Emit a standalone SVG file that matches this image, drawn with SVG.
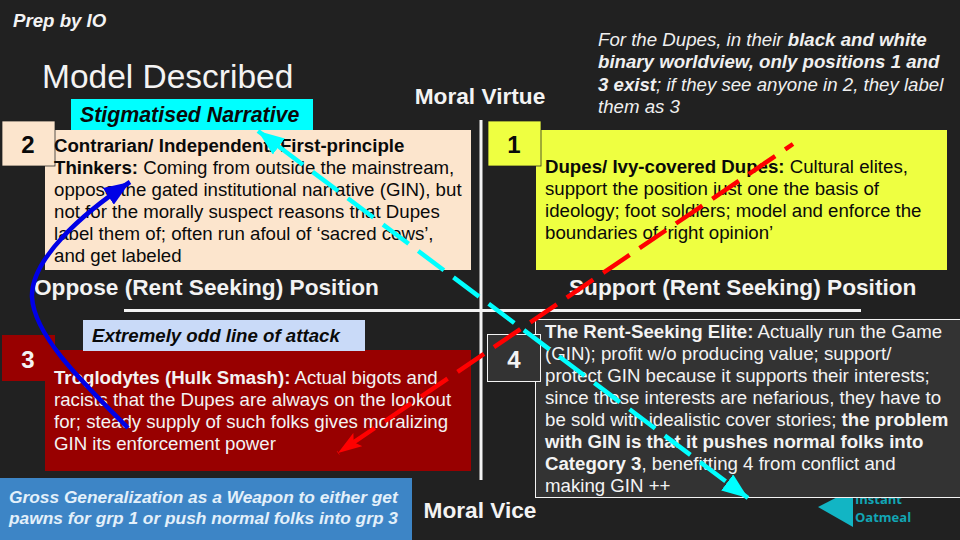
<svg xmlns="http://www.w3.org/2000/svg" width="960" height="540" viewBox="0 0 960 540">
<style>
text{font-family:"Liberation Sans",Arial,sans-serif}
.b{font-weight:700}
.body{font-size:18.67px}
.dk{fill:#0a0a0a}
.lt{fill:#f3f3f3}
.hd{font-size:22.67px;font-weight:700;fill:#f3f3f3}
.num{font-size:24px;font-weight:700;text-anchor:middle}
.tag{font-weight:700;font-style:italic}
.ax{stroke:#f3f3f3;stroke-width:3;fill:none}
.dash{fill:none;stroke-width:4.500;stroke-dasharray:32 12}
</style>
<defs>
<marker id="acy" viewBox="0 0 26 20" refX="26" refY="10" markerWidth="26" markerHeight="20" markerUnits="userSpaceOnUse" orient="auto-start-reverse"><path d="M0 0L26 10L0 20z" fill="#00ffff"/></marker>
<marker id="are" viewBox="0 0 24 16" refX="24" refY="8" markerWidth="24" markerHeight="16" markerUnits="userSpaceOnUse" orient="auto"><path d="M0 0L24 8L0 16L5 8z" fill="#ff0000"/></marker>
<marker id="abl" viewBox="0 0 26 20" refX="26" refY="10" markerWidth="26" markerHeight="20" markerUnits="userSpaceOnUse" orient="auto"><path d="M0 0L26 10L0 20z" fill="#0000e6"/></marker>
</defs>
<rect width="960" height="540" fill="#212121"/>

<g id="prep"><text x="13" y="27" class="b" font-style="italic" font-size="18.67" fill="#f3f3f3">Prep by IO</text></g>
<g id="title"><text x="42" y="88" font-size="33.5" fill="#f3f3f3">Model Described</text></g>
<g id="note" font-size="18.67" font-style="italic" fill="#efefef">
<text x="598" y="46">For the Dupes, in their <tspan class="b">black and white</tspan></text>
<text x="598" y="68"><tspan class="b">binary worldview, only positions 1 and</tspan></text>
<text x="598" y="91"><tspan class="b">3 exist</tspan>; if they see anyone in 2, they label</text>
<text x="598" y="113">them as 3</text>
</g>

<g id="axes">
<path class="ax" d="M481 120V480"/>
<path class="ax" d="M124 310.500H861"/>
<text x="480" y="104" text-anchor="middle" class="hd">Moral Virtue</text>
<text x="480" y="518" text-anchor="middle" class="hd">Moral Vice</text>
<text x="34" y="295" class="hd">Oppose (Rent Seeking) Position</text>
<text x="569" y="295" class="hd">Support (Rent Seeking) Position</text>
</g>

<g id="instant-oatmeal">
<path d="M818 507L853 489V527z" fill="#12b5c4"/>
<text x="855" y="504" font-size="13" font-weight="700" fill="#12a5b4" style="font-family:'Open Sans',sans-serif">Instant</text>
<text x="855" y="522" font-size="13" font-weight="700" fill="#12a5b4" style="font-family:'Open Sans',sans-serif">Oatmeal</text>
</g>

<g id="node-2">
<rect x="45" y="130" width="426" height="140" fill="#fce5cd"/>
<rect x="2" y="121" width="53" height="45" fill="#fce5cd" stroke="#212121" stroke-width="0.750"/>
<text x="28" y="153" class="num dk">2</text>
<g class="body dk">
<text x="54" y="152" class="b">Contrarian/ Independent/ First-principle</text>
<text x="54" y="174"><tspan class="b">Thinkers:</tspan> Coming from outside the mainstream,</text>
<text x="54" y="196">oppose the gated institutional narrative (GIN), but</text>
<text x="54" y="218">not for the morally suspect reasons that Dupes</text>
<text x="54" y="240">label them of; often run afoul of ‘sacred cows’,</text>
<text x="54" y="262">and get labeled</text>
</g>
</g>
<g id="tag-stigmatised">
<rect x="71" y="99" width="242" height="31" fill="#00ffff"/>
<text x="80" y="122" class="tag dk" font-size="21.33">Stigmatised Narrative</text>
</g>

<g id="node-1">
<rect x="536" y="130" width="411" height="140" fill="#eeff41"/>
<rect x="488" y="121" width="53" height="45" fill="#eeff41" stroke="#212121" stroke-width="0.750"/>
<text x="514" y="153" class="num dk">1</text>
<g class="body dk">
<text x="545" y="173"><tspan class="b">Dupes/ Ivy-covered Dupes:</tspan> Cultural elites,</text>
<text x="545" y="195">support the position just one the basis of</text>
<text x="545" y="217">ideology; foot soldiers; model and enforce the</text>
<text x="545" y="239">boundaries of ‘right opinion’</text>
</g>
</g>

<g id="node-3">
<rect x="45" y="350" width="426" height="121" fill="#980000"/>
<rect x="2" y="335" width="53" height="46" fill="#980000"/>
<text x="28" y="368" class="num lt">3</text>
<g class="body lt">
<text x="54" y="384"><tspan class="b">Troglodytes (Hulk Smash):</tspan> Actual bigots and</text>
<text x="54" y="406">racists that the Dupes are always on the lookout</text>
<text x="54" y="428">for; steady supply of such folks gives moralizing</text>
<text x="54" y="450">GIN its enforcement power</text>
</g>
</g>
<g id="tag-odd">
<rect x="83" y="320" width="282" height="31" fill="#c9daf8"/>
<text x="92" y="342" class="tag dk" font-size="18.67">Extremely odd line of attack</text>
</g>

<g id="node-4">
<rect x="535.500" y="319.500" width="430" height="178" fill="#333333" stroke="#f3f3f3"/>
<rect x="487.500" y="334.500" width="53" height="47" fill="#333333" stroke="#f3f3f3"/>
<text x="514" y="368" class="num lt">4</text>
<g class="body lt">
<text x="545" y="338"><tspan class="b">The Rent-Seeking Elite:</tspan> Actually run the Game</text>
<text x="545" y="360">(GIN); profit w/o producing value; support/</text>
<text x="545" y="382">protect GIN because it supports their interests;</text>
<text x="545" y="404">since these interests are nefarious, they have to</text>
<text x="545" y="426">be sold with idealistic cover stories; <tspan class="b">the problem</tspan></text>
<text x="545" y="448" class="b">with GIN is that it pushes normal folks into</text>
<text x="545" y="470"><tspan class="b">Category 3</tspan>, benefitting 4 from conflict and</text>
<text x="545" y="492">making GIN ++</text>
</g>
</g>

<g id="note-weapon">
<rect x="0" y="478" width="412" height="62" fill="#3d85c6"/>
<text x="9" y="503" font-size="17.33" class="b" font-style="italic" fill="#e3f0fa">Gross Generalization as a Weapon to either get</text>
<text x="9" y="524" font-size="17.33" class="b" font-style="italic" fill="#e3f0fa">pawns for grp 1 or push normal folks into grp 3</text>
</g>

<g id="connectors">
<path class="dash" stroke="#ff0000" stroke-dashoffset="22.500" d="M793 144L338 453" marker-end="url(#are)"/>
<path class="dash" stroke="#00ffff" stroke-dashoffset="16" d="M748 498L258 131" marker-start="url(#acy)" marker-end="url(#acy)"/>
<path d="M128 428C80 380 34 335 32 297C31 260 80 215 130 182" fill="none" stroke="#0000e6" stroke-width="4.500" marker-end="url(#abl)"/>
</g>
</svg>
